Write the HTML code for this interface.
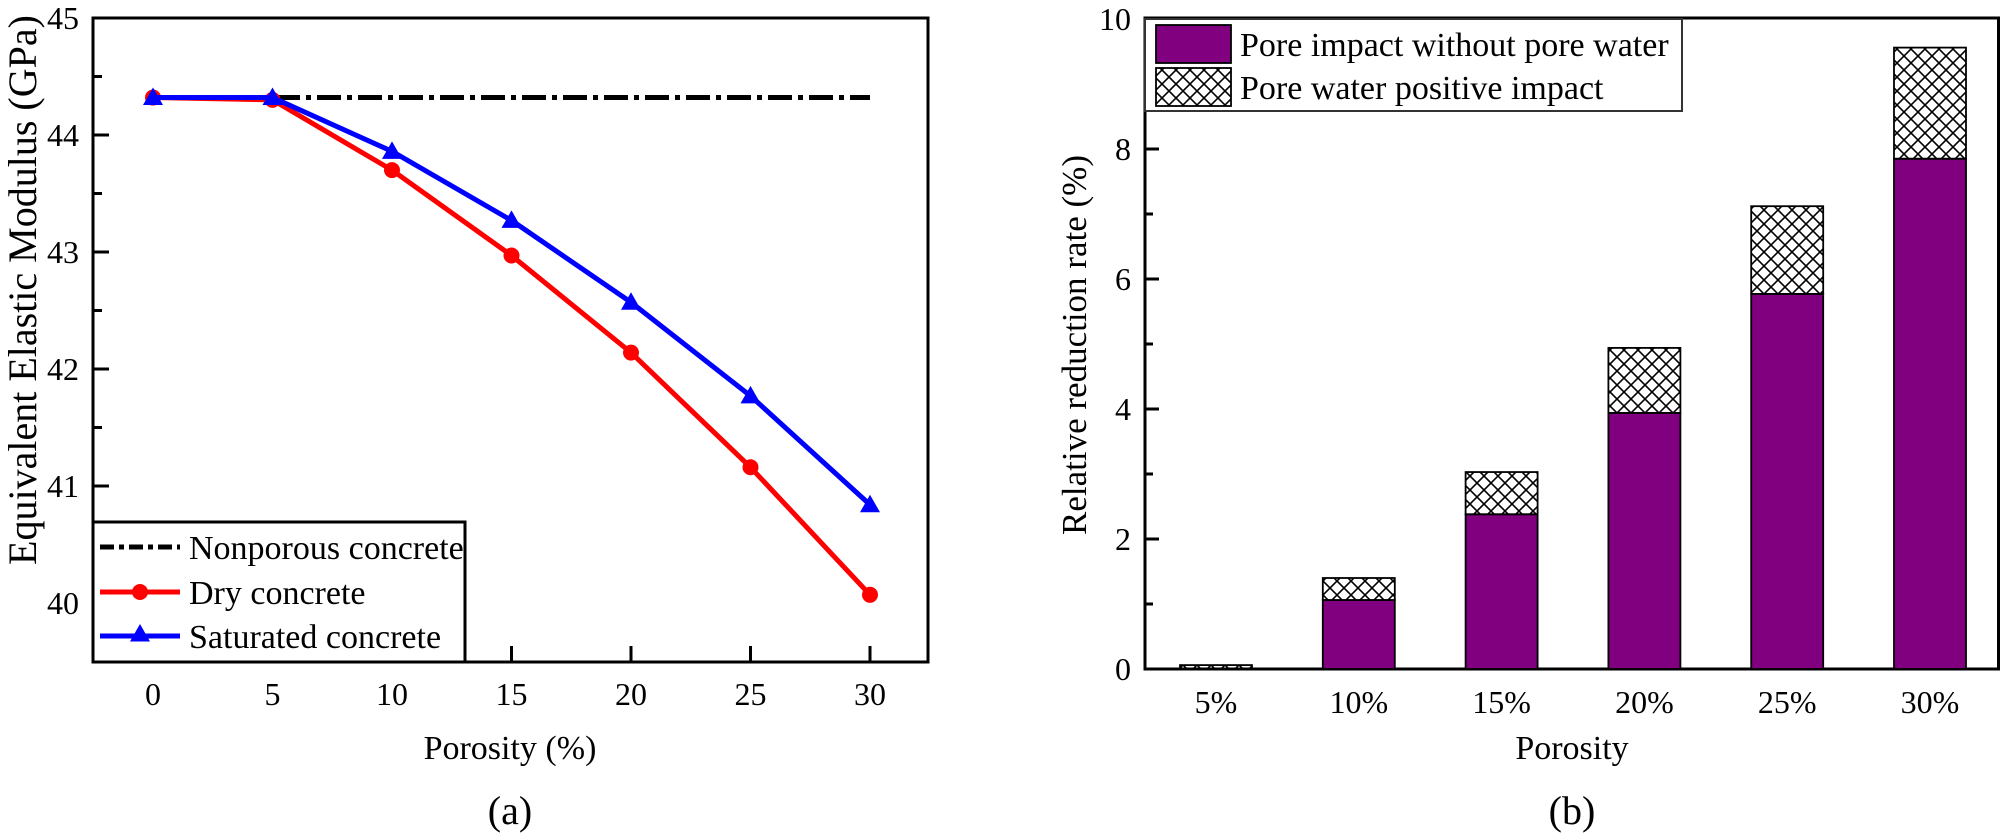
<!DOCTYPE html>
<html><head><meta charset="utf-8"><style>
html,body{margin:0;padding:0;background:#fff;}
svg{display:block;font-family:"Liberation Serif",serif;}
</style></head><body>
<svg id="fig" width="2001" height="840" viewBox="0 0 2001 840" xmlns="http://www.w3.org/2000/svg">
<defs>
<pattern id="hatch" patternUnits="userSpaceOnUse" width="14" height="14">
<path d="M0,0 L14,14 M14,0 L0,14" stroke="#000" stroke-width="1.6"/>
</pattern>
</defs>
<g id="left"></g>
<g id="right"></g>
</svg>
<script>
// ---- Chart (a) data ----
const porosityA = [0, 5, 10, 15, 20, 25, 30];
const nonporous = [44.32, 44.32, 44.32, 44.32, 44.32, 44.32, 44.32];
const dryVals = [44.32, 44.30, 43.70, 42.97, 42.14, 41.16, 40.07];
const satVals = [44.32, 44.32, 43.86, 43.27, 42.57, 41.77, 40.84];
const xTicksA = [0, 5, 10, 15, 20, 25, 30];
const yTicksA = [40, 41, 42, 43, 44, 45];
// ---- Chart (b) data ----
const categoriesB = ["5%", "10%", "15%", "20%", "25%", "30%"];
const poreNoWater = [0.0, 1.06, 2.38, 3.94, 5.77, 7.85];
const waterImpact = [0.06, 0.34, 0.65, 1.00, 1.35, 1.71];
const yTicksB = [0, 2, 4, 6, 8, 10];

const NS = "http://www.w3.org/2000/svg";
function mk(parent, tag, attrs, text) {
  const e = document.createElementNS(NS, tag);
  for (const k in attrs) e.setAttribute(k, attrs[k]);
  if (text !== undefined) e.textContent = text;
  parent.appendChild(e);
  return e;
}

// ===== Chart (a) =====
const L = document.getElementById('left');
const ax = {l: 93, r: 928, t: 18, b: 662};
const xA = v => 153 + v * (119.5 / 5);
const yA = v => 18 + (45 - v) * 117;

let fr = mk(L, 'rect', {x: ax.l, y: ax.t, width: ax.r - ax.l, height: ax.b - ax.t, fill: 'none', stroke: '#000', 'stroke-width': 3});



yTicksA.forEach(v => {
  const y = yA(v);
  let t = mk(L, 'line', {x1: ax.l, x2: ax.l + 16, y1: y, y2: y, stroke: '#000', 'stroke-width': 3});
  
  
  let lb = mk(L, 'text', {x: ax.l - 14, y: y + 11, 'font-size': 32, 'text-anchor': 'end'}, String(v));
  
  
  if (v < 45) {
    const ym = yA(v + 0.5);
    let m = mk(L, 'line', {x1: ax.l, x2: ax.l + 9, y1: ym, y2: ym, stroke: '#000', 'stroke-width': 3});
    
    
  }
});
xTicksA.forEach(v => {
  const x = xA(v);
  let t = mk(L, 'line', {x1: x, x2: x, y1: ax.b, y2: ax.b - 16, stroke: '#000', 'stroke-width': 3});
  
  
  let lb = mk(L, 'text', {x: x, y: 705, 'font-size': 32, 'text-anchor': 'middle'}, String(v));
  
  
});
let xtA = mk(L, 'text', {x: 510, y: 759, 'font-size': 34, 'text-anchor': 'middle'}, 'Porosity (%)');


let ytA = mk(L, 'text', {x: 0, y: 0, 'font-size': 40, 'text-anchor': 'middle', transform: 'translate(36,290) rotate(-90)'}, 'Equivalent Elastic Modulus (GPa)');


let capA = mk(L, 'text', {x: 510, y: 824, 'font-size': 40, 'text-anchor': 'middle'}, '(a)');



function pts(vals) { return porosityA.map((p, i) => xA(p) + ',' + yA(vals[i])).join(' '); }
let np = mk(L, 'polyline', {points: pts(nonporous), fill: 'none', stroke: '#000', 'stroke-width': 5, 'stroke-dasharray': '24 6 5 6'});


let dl = mk(L, 'polyline', {points: pts(dryVals), fill: 'none', stroke: '#ff0000', 'stroke-width': 5});


dryVals.forEach((v, i) => {
  let c = mk(L, 'circle', {cx: xA(porosityA[i]), cy: yA(v), r: 8, fill: '#ff0000'});
  
  
});
let sl = mk(L, 'polyline', {points: pts(satVals), fill: 'none', stroke: '#0000ff', 'stroke-width': 5});


function tri(cx, cy, s) { return (cx) + ',' + (cy - s) + ' ' + (cx - s) + ',' + (cy + s * 0.75) + ' ' + (cx + s) + ',' + (cy + s * 0.75); }
satVals.forEach((v, i) => {
  let t = mk(L, 'polygon', {points: tri(xA(porosityA[i]), yA(v), 10), fill: '#0000ff'});
  
  
});

// legend a
let lgA = mk(L, 'g', {});


mk(lgA, 'rect', {x: ax.l, y: 522, width: 372, height: 140, fill: '#fff', stroke: '#000', 'stroke-width': 3});
const legRows = [['Nonporous concrete', '#000', 547], ['Dry concrete', '#ff0000', 592], ['Saturated concrete', '#0000ff', 636]];
legRows.forEach((r, i) => {
  let g = mk(lgA, 'g', {});
  
  
  const ln = mk(g, 'line', {x1: 100, x2: 180, y1: r[2], y2: r[2], stroke: r[1], 'stroke-width': 5});
  if (i === 0) { ln.setAttribute('stroke-dasharray', '14 5 5 5'); }
  if (i === 1) mk(g, 'circle', {cx: 140, cy: r[2], r: 8, fill: r[1]});
  if (i === 2) mk(g, 'polygon', {points: tri(140, r[2] - 2, 10), fill: r[1]});
  mk(g, 'text', {x: 189, y: r[2] + 12, 'font-size': 34}, r[0]);
});

// ===== Chart (b) =====
const R = document.getElementById('right');
const bx = {l: 1145, r: 2000, t: 18, b: 669};
const yB = v => 669 - v * 65;
const xB = i => 1216 + i * 142.8;
const bw = 72;

let frB = mk(R, 'rect', {x: bx.l, y: bx.t, width: bx.r - bx.l - 1.5, height: bx.b - bx.t, fill: 'none', stroke: '#000', 'stroke-width': 3});


yTicksB.forEach(v => {
  const y = yB(v);
  let t = mk(R, 'line', {x1: bx.l, x2: bx.l + 14, y1: y, y2: y, stroke: '#000', 'stroke-width': 3});
  
  
  let lb = mk(R, 'text', {x: bx.l - 14, y: y + 11, 'font-size': 32, 'text-anchor': 'end'}, String(v));
  
  
  if (v < 10) {
    const ym = yB(v + 1);
    let m = mk(R, 'line', {x1: bx.l, x2: bx.l + 8, y1: ym, y2: ym, stroke: '#000', 'stroke-width': 3});
    
    
  }
});
categoriesB.forEach((c, i) => {
  const cx = xB(i);
  const y0 = yB(0), y1 = yB(poreNoWater[i]), y2 = yB(poreNoWater[i] + waterImpact[i]);
  let b1 = mk(R, 'rect', {x: cx - bw / 2, y: y1, width: bw, height: y0 - y1, fill: '#800080', stroke: '#000', 'stroke-width': 1.8});
  
  
  let b2 = mk(R, 'rect', {x: cx - bw / 2, y: y2, width: bw, height: y1 - y2, fill: 'url(#hatch)', stroke: '#000', 'stroke-width': 1.8});
  
  
  let lb = mk(R, 'text', {x: cx, y: 713, 'font-size': 32, 'text-anchor': 'middle'}, c);
  
  
});
let xtB = mk(R, 'text', {x: 1572, y: 759, 'font-size': 34, 'text-anchor': 'middle'}, 'Porosity');


let ytB = mk(R, 'text', {x: 0, y: 0, 'font-size': 35, 'text-anchor': 'middle', transform: 'translate(1086,345) rotate(-90)'}, 'Relative reduction rate (%)');


let capB = mk(R, 'text', {x: 1572, y: 824, 'font-size': 40, 'text-anchor': 'middle'}, '(b)');



let lgB = mk(R, 'g', {});


mk(lgB, 'rect', {x: bx.l, y: 19, width: 537, height: 92, fill: '#fff', stroke: '#333', 'stroke-width': 2});
let e1 = mk(lgB, 'g', {});


mk(e1, 'rect', {x: 1156, y: 25, width: 75, height: 38, fill: '#800080', stroke: '#000', 'stroke-width': 1.8});
mk(e1, 'text', {x: 1240, y: 56, 'font-size': 34}, 'Pore impact without pore water');
let e2 = mk(lgB, 'g', {});


mk(e2, 'rect', {x: 1156, y: 68, width: 75, height: 38, fill: 'url(#hatch)', stroke: '#000', 'stroke-width': 1.8});
mk(e2, 'text', {x: 1240, y: 99, 'font-size': 34}, 'Pore water positive impact');
</script>
</body></html>
